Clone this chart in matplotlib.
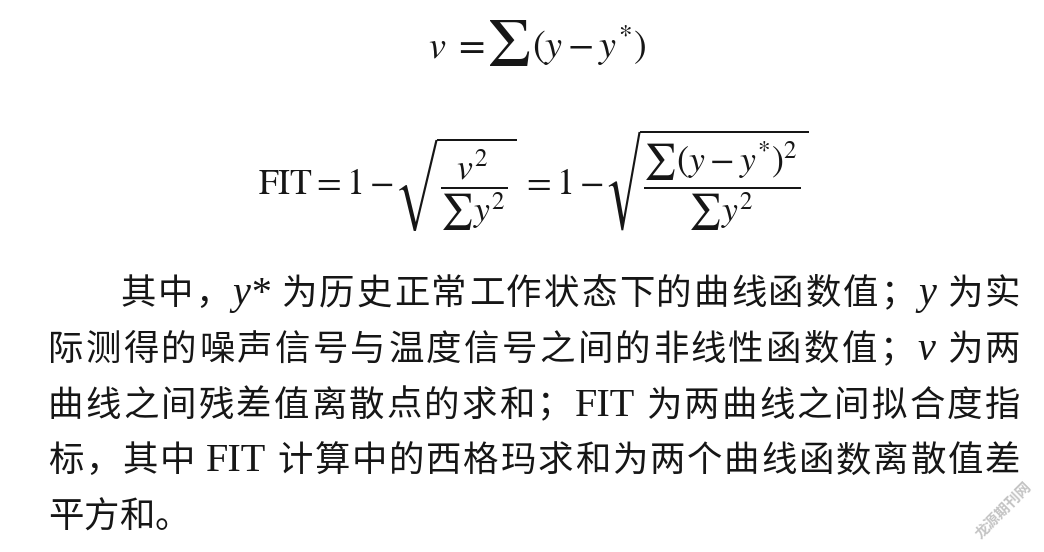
import matplotlib
matplotlib.use("Agg")
from matplotlib import pyplot as plt
from matplotlib.font_manager import FontProperties

plt.rcParams['mathtext.fontset'] = 'stix'

# first formula, in pieces so the sigma can be drawn large
formula_v_parts = [(r'$v\;=$', 1.0), (r'$\Sigma$', 1.8), (r'$(y-y^{*})$', 1.0)]
formula_fit = (r'$\mathrm{FIT}=1-\!\sqrt{\dfrac{v^{2}}{\sum y^{2}}}\;=1-\!'
               r'\sqrt{\dfrac{\sum(y-y^{*})^{2}}{\sum y^{2}}}$')

# paragraph, one list of (text, style) tokens per printed line
# style: "cjk" = Chinese char, "it" = italic latin, "rm" = roman latin
line1 = [("其", "cjk"), ("中", "cjk"), ("，", "cjk"), ("y*", "it"),
         ("为", "cjk"), ("历", "cjk"), ("史", "cjk"), ("正", "cjk"), ("常", "cjk"),
         ("工", "cjk"), ("作", "cjk"), ("状", "cjk"), ("态", "cjk"), ("下", "cjk"),
         ("的", "cjk"), ("曲", "cjk"), ("线", "cjk"), ("函", "cjk"), ("数", "cjk"),
         ("值", "cjk"), ("；", "cjk"), ("y", "it"), ("为", "cjk"), ("实", "cjk")]
line2 = [(c, "cjk") for c in "际测得的噪声信号与温度信号之间的非线性函数值；"] + \
        [("v", "it"), ("为", "cjk"), ("两", "cjk")]
line3 = [(c, "cjk") for c in "曲线之间残差值离散点的求和；"] + [("FIT", "rm")] + \
        [(c, "cjk") for c in "为两曲线之间拟合度指"]
line4 = [(c, "cjk") for c in "标，其中"] + [("FIT", "rm")] + \
        [(c, "cjk") for c in "计算中的西格玛求和为两个曲线函数离散值差"]
line5 = [(c, "cjk") for c in "平方和。"]
lines = [line1, line2, line3, line4, line5]
indents = [120, 48, 48, 48, 48]
justified = [True, True, True, True, False]

watermark = "龙源期刊网"

W, H = 1044, 552
fig = plt.figure(figsize=(W / 100, H / 100), dpi=100)
ax = fig.add_axes([0, 0, 1, 1])
ax.set_xlim(0, W)
ax.set_ylim(H, 0)
ax.axis('off')
renderer = fig.canvas.get_renderer()

ink = '#161616'
cjk_font = FontProperties(family=['Noto Sans CJK SC', 'DejaVu Sans'], size=25.5)
it_font = FontProperties(family='Liberation Serif', style='italic', size=29)
rm_font = FontProperties(family='Liberation Serif', size=29)
fonts = {"cjk": cjk_font, "it": it_font, "rm": rm_font}


def place_formula(tex, x0, x1, ycenter):
    t = ax.text(0, 0, tex, fontsize=30, color=ink)
    bb = t.get_window_extent(renderer)
    t.set_fontsize(30 * (x1 - x0) / bb.width)
    t.set_position(((x0 + x1) / 2, ycenter))
    t.set_ha('center')
    t.set_va('center')


# formula 1: pieces on a shared baseline
size1 = 27.5
x = 428
for tex, scale in formula_v_parts:
    t = ax.text(x, 58 if scale == 1.0 else 66, tex, fontsize=size1 * scale,
                color=ink, va='baseline', ha='left')
    x += t.get_window_extent(renderer).width + 2

place_formula(formula_fit, 258, 808, 181)

right = 1020
base0, step = 304, 55.8
for k, toks in enumerate(lines):
    y = base0 + k * step
    texts, widths = [], []
    for s, kind in toks:
        t = ax.text(0, y, s, fontproperties=fonts[kind], color=ink,
                    va='baseline', ha='left')
        texts.append(t)
        widths.append(t.get_window_extent(renderer).width)
    # latin tokens get a small space on both sides
    gaps = []
    for i in range(len(toks) - 1):
        g = 0
        if toks[i][1] != "cjk":
            g += 9
        if toks[i + 1][1] != "cjk" and toks[i][0] not in "，；":
            g += 9
        gaps.append(g)
    total = sum(widths) + sum(gaps)
    extra = 0
    if justified[k] and len(gaps):
        extra = (right - indents[k] - total) / len(gaps)
    x = indents[k]
    for i, t in enumerate(texts):
        t.set_x(x)
        if i < len(gaps):
            x += widths[i] + gaps[i] + extra

ax.text(1003, 510, watermark, rotation=45, ha='center', va='center',
        fontproperties=FontProperties(family='Noto Sans CJK SC', size=10.5,
                                      weight='bold'),
        color='#c4c4c4')

fig.savefig('out.png', dpi=100, facecolor='white')
